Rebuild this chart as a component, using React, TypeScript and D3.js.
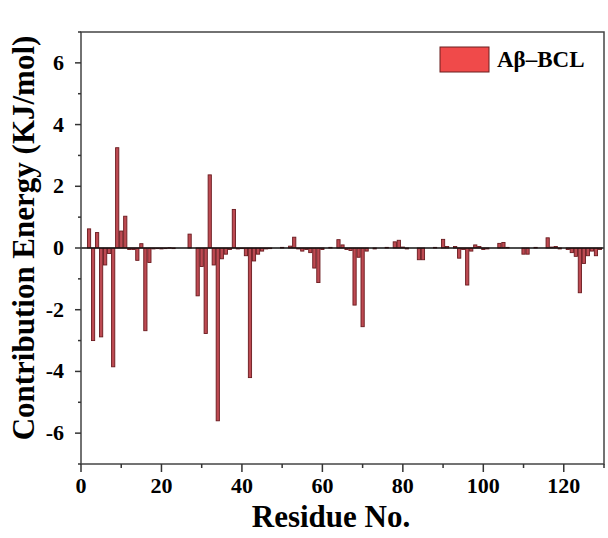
import React from "react";
import * as d3 from "d3";

const residues = [2,3,4,5,6,7,8,9,10,11,12,13,14,15,16,17,18,19,20,21,22,23,27,29,30,31,32,33,34,35,36,37,38,39,40,41,42,43,44,45,46,47,50,52,53,54,55,56,57,58,59,60,62,64,65,66,67,68,69,70,71,73,76,78,79,80,81,84,85,88,90,91,93,94,95,96,97,98,99,100,101,104,105,106,110,111,113,116,117,118,119,121,122,123,124,125,126,127,128,129];
const energies = [0.62,-3.0,0.5,-2.88,-0.55,-0.18,-3.85,3.25,0.55,1.03,-0.05,-0.05,-0.4,0.14,-2.68,-0.47,-0.03,-0.02,-0.03,-0.02,0.01,-0.02,0.45,-1.55,-0.6,-2.77,2.37,-0.55,-5.6,-0.35,-0.2,-0.05,1.25,-0.03,-0.02,-0.25,-4.2,-0.42,-0.2,-0.1,-0.03,-0.02,0.02,0.06,0.35,-0.03,-0.1,-0.05,-0.15,-0.65,-1.12,-0.05,0.02,0.27,0.1,-0.05,-0.08,-1.85,-0.3,-2.55,-0.1,-0.03,0.02,0.2,0.25,0.03,-0.03,-0.38,-0.38,0.02,0.28,0.05,0.05,-0.33,-0.05,-1.2,-0.1,0.1,0.05,-0.05,-0.03,0.15,0.18,0.02,-0.2,-0.2,0.02,0.33,0.03,0.05,-0.03,-0.05,-0.15,-0.27,-1.45,-0.5,-0.25,-0.1,-0.25,-0.05];

const xTicks = [0, 20, 40, 60, 80, 100, 120];
const xMinorTicks = [10, 30, 50, 70, 90, 110, 130];
const yTicks = [-6, -4, -2, 0, 2, 4, 6];
const yMinorTicks = [-7, -5, -3, -1, 1, 3, 5, 7];
const seriesName = "Aβ–BCL";
const xTitle = "Residue No.";
const yTitle = "Contribution Energy (KJ/mol)";

export default function App() {
  const W = 608, H = 538;
  const L = 81, R = 604, T = 32, B = 464;
  const x = d3.scaleLinear().domain([0, 130]).range([L, R]);
  const y = d3.scaleLinear().domain([-7, 7]).range([B, T]);
  const bw = (x(1) - x(0)) * 0.8;
  const font = "'Liberation Serif', 'Times New Roman', serif";
  return (
    <svg width={W} height={H} style={{ position: "absolute", left: 0, top: 0, background: "#fff" }} fontFamily={font}>
      {residues.map((r, i) => {
        const v = energies[i];
        const y0 = y(Math.max(0, v));
        const h = Math.abs(y(v) - y(0));
        return (
          <rect key={r} x={x(r) - bw / 2} y={y0} width={bw} height={Math.max(h, 0.5)}
            fill="#bd4a52" stroke="#6a1a1e" strokeWidth={0.9} />
        );
      })}
      <line x1={L} x2={R} y1={y(0)} y2={y(0)} stroke="#111" strokeWidth={1.5} />
      <rect x={L} y={T} width={R - L} height={B - T} fill="none" stroke="#444" strokeWidth={1.5} />
      {xTicks.map(t => (
        <g key={"xt" + t}>
          <line x1={x(t)} x2={x(t)} y1={B} y2={B + 8} stroke="#333" strokeWidth={1.5} />
          <text x={x(t)} y={493} textAnchor="middle" fontSize={22} fontWeight="bold">{t}</text>
        </g>
      ))}
      {xMinorTicks.map(t => (
        <line key={"xm" + t} x1={x(t)} x2={x(t)} y1={B} y2={B + 4} stroke="#333" strokeWidth={1.5} />
      ))}
      {yTicks.map(t => (
        <g key={"yt" + t}>
          <line x1={L - 6} x2={L} y1={y(t)} y2={y(t)} stroke="#333" strokeWidth={1.5} />
          <text x={64} y={y(t) + 7} textAnchor="end" fontSize={22} fontWeight="bold">{t}</text>
        </g>
      ))}
      {yMinorTicks.map(t => (
        <line key={"ym" + t} x1={L - 3} x2={L} y1={y(t)} y2={y(t)} stroke="#333" strokeWidth={1.5} />
      ))}
      <text x={331} y={527} textAnchor="middle" fontSize={31} fontWeight="bold">{xTitle}</text>
      <text transform={`translate(34, 238) rotate(-90)`} textAnchor="middle" fontSize={31} fontWeight="bold">{yTitle}</text>
      <rect x={440} y={47} width={49} height={25} fill="#f04a4a" stroke="#6b1f1f" strokeWidth={1} />
      <text x={497} y={67} fontSize={23} fontWeight="bold">{seriesName}</text>
    </svg>
  );
}
